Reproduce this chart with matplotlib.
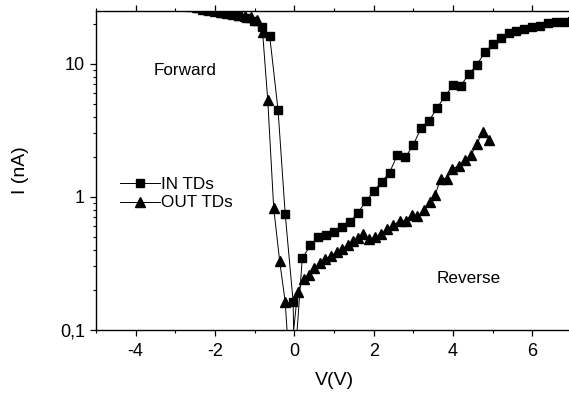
import matplotlib
matplotlib.use("Agg")
import matplotlib.pyplot as plt
from matplotlib.ticker import FixedLocator, MultipleLocator, NullFormatter

plt.rcParams['font.family'] = ['Liberation Sans', 'DejaVu Sans']
plt.rcParams['axes.unicode_minus'] = False

# IN TDs (squares) - forward branch, dip through zero, reverse branch
v_in = [-3.02, -2.82, -2.62, -2.42, -2.22, -2.02, -1.82, -1.62, -1.42, -1.22,
        -1.02, -0.82, -0.62, -0.41, -0.23, -0.03, 0.0,
        0.2, 0.4, 0.6, 0.8, 1.0, 1.2, 1.4, 1.6, 1.8, 2.0, 2.2, 2.4, 2.6, 2.8,
        3.0, 3.2, 3.4, 3.6, 3.8, 4.0, 4.2, 4.4, 4.6, 4.8, 5.0, 5.2, 5.4, 5.6,
        5.8, 6.0, 6.2, 6.4, 6.6, 6.8, 7.0]
i_in = [29.0, 28.0, 27.0, 26.2, 25.5, 24.9, 24.3, 23.7, 23.0, 22.2,
        21.0, 18.9, 16.1, 4.47, 0.74, 0.161, 0.05,
        0.343, 0.429, 0.493, 0.514, 0.541, 0.594, 0.643, 0.755, 0.92, 1.10,
        1.29, 1.52, 2.07, 1.98, 2.46, 3.31, 3.73, 4.68, 5.70, 6.94, 6.86,
        8.39, 9.83, 12.2, 14.1, 15.6, 17.1, 17.6, 18.4, 18.9, 19.4, 20.3,
        20.8, 20.8, 21.0]

# OUT TDs (triangles)
v_out = [-2.9, -2.75, -2.6, -2.45, -2.3, -2.15, -2.0, -1.85, -1.7, -1.55,
         -1.4, -1.25, -1.1, -0.95, -0.80, -0.67, -0.52, -0.37, -0.23, -0.12,
         0.083, 0.234, 0.363, 0.504, 0.640, 0.781, 0.927, 1.065, 1.204, 1.343,
         1.481, 1.599, 1.738, 1.889, 2.040, 2.191, 2.343, 2.494, 2.657, 2.809,
         2.955, 3.103, 3.262, 3.413, 3.552, 3.690, 3.854, 3.980, 4.144, 4.307,
         4.458, 4.602, 4.748, 4.899]
i_out = [29.0, 28.3, 27.5, 26.8, 26.1, 25.6, 25.1, 24.7, 24.3, 23.9,
         23.5, 23.0, 22.5, 21.5, 17.3, 5.32, 0.82, 0.329, 0.161, 0.05,
         0.192, 0.240, 0.257, 0.290, 0.316, 0.339, 0.360, 0.380, 0.403, 0.432,
         0.467, 0.488, 0.527, 0.479, 0.495, 0.527, 0.570, 0.611, 0.655, 0.661,
         0.726, 0.714, 0.792, 0.910, 1.036, 1.37, 1.37, 1.61, 1.71, 1.90,
         2.07, 2.50, 3.06, 2.69]

fig = plt.figure(figsize=(5.69, 3.94), dpi=100)
ax = fig.add_axes([0.1687, 0.1637, 0.8366, 0.8084])

ax.plot(v_in, i_in, color='black', lw=0.7, marker='s', ms=5.8,
        label='IN TDs')
ax.plot(v_out, i_out, color='black', lw=0.7, marker='^', ms=7.0,
        label='OUT TDs')

ax.set_yscale('log')
ax.set_xlim(-5, 7)
ax.set_ylim(0.1, 25)

ax.xaxis.set_major_locator(MultipleLocator(2))
ax.xaxis.set_minor_locator(MultipleLocator(1))
ax.yaxis.set_major_locator(FixedLocator([0.1, 1, 10]))
ax.set_yticklabels(['0,1', '1', '10'])
ax.yaxis.set_minor_formatter(NullFormatter())

ax.spines['right'].set_visible(False)
for s in ['left', 'bottom', 'top']:
    ax.spines[s].set_linewidth(1.0)

ax.tick_params(axis='both', which='major', labelsize=13, direction='out',
               length=4.5, width=0.9)
ax.tick_params(axis='both', which='minor', direction='out', length=2.5,
               width=0.8)
ax.tick_params(axis='x', which='both', top=True)
ax.tick_params(axis='x', which='both', pad=5)

ax.set_xlabel('V(V)', fontsize=14, labelpad=9)
ax.set_ylabel('I (nA)', fontsize=14, labelpad=22)

ax.text(-3.55, 8.2, 'Forward', fontsize=12.3)
ax.text(3.58, 0.225, 'Reverse', fontsize=12.3)

ax.legend(loc='upper left', bbox_to_anchor=(0.037, 0.50), frameon=False,
          fontsize=12.3, handlelength=2.3, handletextpad=0.1,
          labelspacing=0.2, borderaxespad=0)

fig.savefig('out.png', dpi=100)
